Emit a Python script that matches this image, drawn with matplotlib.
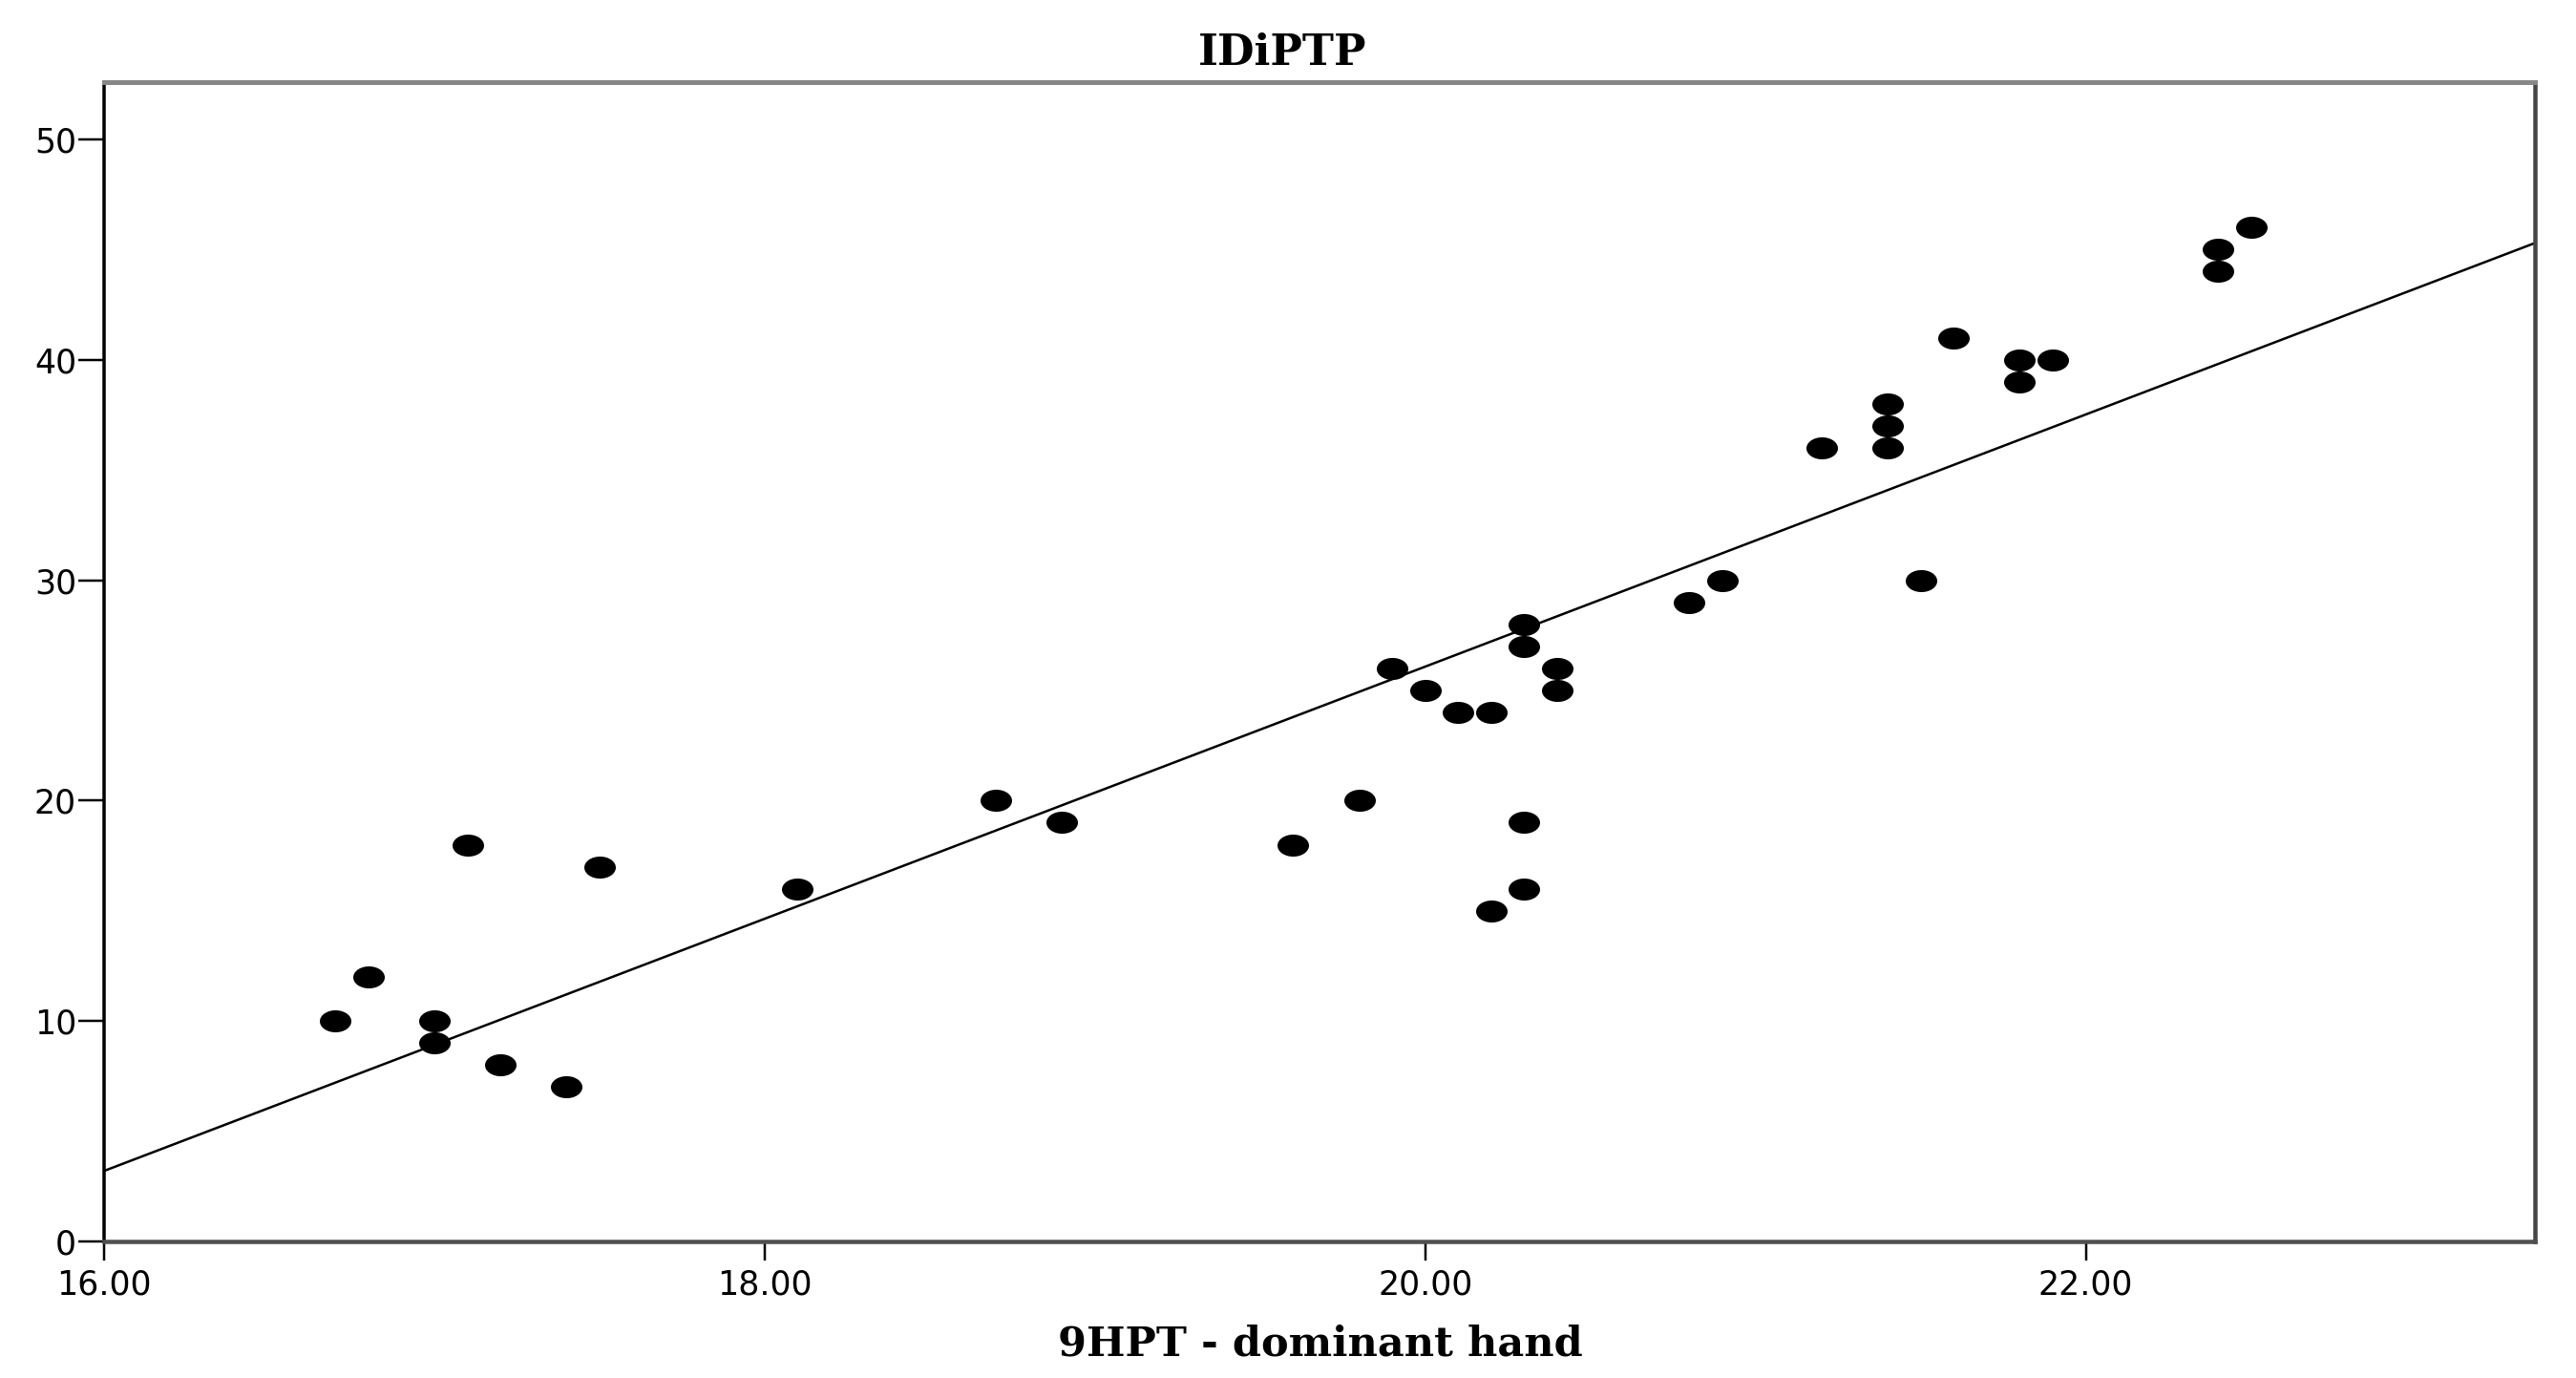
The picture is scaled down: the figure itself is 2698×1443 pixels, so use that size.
import numpy as np
import matplotlib
matplotlib.use("Agg")
import matplotlib.pyplot as plt
from matplotlib.path import Path
from matplotlib.transforms import Affine2D
#
#   Data
#
hpt_dominant = [16.7, 16.8, 17.0, 17.0, 17.1, 17.2, 17.4, 17.5, 18.1, 18.7,
                18.9, 19.6, 19.8, 19.9, 20.0, 20.1, 20.2, 20.2, 20.3, 20.3,
                20.3, 20.3, 20.4, 20.4, 20.8, 20.9, 21.2, 21.4, 21.4, 21.4,
                21.5, 21.6, 21.8, 21.8, 21.9, 22.4, 22.4, 22.5]
idiptp = [10, 12, 10, 9, 18, 8, 7, 17, 16, 20,
          19, 18, 20, 26, 25, 24, 24, 15, 28, 27,
          19, 16, 26, 25, 29, 30, 36, 38, 37, 36,
          30, 41, 40, 39, 40, 45, 44, 46]
x_ticks = [16.0, 18.0, 20.0, 22.0]
y_ticks = [0, 10, 20, 30, 40, 50]
x_range = (16.0, 23.36)
y_range = (0, 52.6)
#
#   Fit line as drawn in the chart (read at the two axis edges)
#
fit_x = [16.0, 23.36]
fit_y = [3.2, 45.3]
#
#   Ellipse marker (picture is stretched horizontally)
#
ellipse = Path.unit_circle().transformed(Affine2D().scale(1.43, 1.0))
#
W, H = 2698, 1443
fig = plt.figure(figsize=(W / 100, H / 100), dpi=100)
px = 0.72  # points per pixel at dpi 100
ax = fig.add_axes([109 / W, 1 - 1300 / H, (2655 - 109) / W, (1300 - 86) / H])
ax.plot(fit_x, fit_y, color='black', lw=2.5 * px, solid_capstyle='butt', zorder=2)
ax.plot(hpt_dominant, idiptp, linestyle='none', marker=ellipse,
        ms=33 * px, color='black', mec='black', mew=0, zorder=3)
ax.set_xlim(*x_range)
ax.set_ylim(*y_range)
ax.set_xticks(x_ticks)
ax.set_xticklabels(['%.2f' % v for v in x_ticks])
ax.set_yticks(y_ticks)
ax.set_yticklabels([str(v) for v in y_ticks])
ax.tick_params(axis='x', direction='out', length=20 * px, width=2.5 * px,
               pad=9 * px, labelsize=25, colors='black')
ax.tick_params(axis='y', direction='out', length=27 * px, width=2.5 * px,
               pad=2 * px, labelsize=25, colors='black')
ax.spines['left'].set_color('black')
ax.spines['left'].set_linewidth(3.5 * px)
ax.spines['top'].set_color('#878787')
ax.spines['top'].set_linewidth(5 * px)
ax.spines['bottom'].set_color('#505050')
ax.spines['bottom'].set_linewidth(4.5 * px)
ax.spines['right'].set_color('#454545')
ax.spines['right'].set_linewidth(4.5 * px)
#
fig.text(1343 / W, 1 - 55 / H, 'IDiPTP', ha='center', va='center',
         family='DejaVu Serif', weight='bold', fontsize=32)
fig.text(1383 / W, 1 - 1407 / H, '9HPT - dominant hand', ha='center',
         va='center', family='DejaVu Serif', weight='bold', fontsize=31)
#
fig.savefig('out.png', dpi=100, facecolor='white')
